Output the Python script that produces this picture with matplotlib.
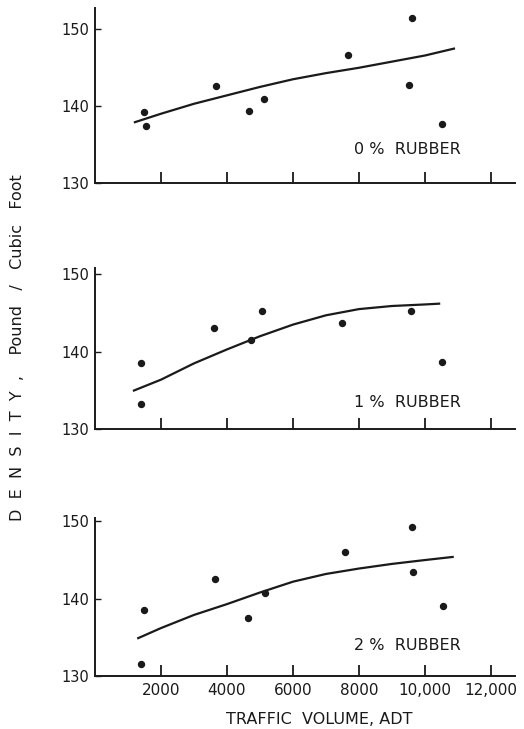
import matplotlib
matplotlib.use('Agg')
import matplotlib.pyplot as plt

# Measured densities (pound / cubic foot) vs traffic volume (ADT)
traffic_0 = [1480, 1550, 3670, 4680, 5130, 7680, 9600, 9520, 10520]
density_0 = [139.2, 137.4, 142.6, 139.3, 140.9, 146.7, 151.5, 142.7, 137.6]

traffic_1 = [1380, 1380, 3610, 4730, 5070, 7490, 9590, 9580, 10530]
density_1 = [138.5, 133.2, 143.0, 141.5, 145.2, 143.7, 151.4, 145.2, 138.7]

traffic_2 = [1480, 1390, 3650, 4650, 5150, 7570, 9620, 9630, 10540]
density_2 = [138.5, 131.5, 142.6, 137.5, 140.8, 146.1, 149.3, 143.4, 139.0]

# Trend curves
curve_x0 = [1210, 2000, 3000, 4000, 5000, 6000, 7000, 8000, 9000, 10000, 10880]
curve_y0 = [137.9, 139.0, 140.3, 141.4, 142.5, 143.5, 144.3, 145.0, 145.8, 146.6, 147.5]

curve_x1 = [1180, 2000, 3000, 4000, 5000, 6000, 7000, 8000, 9000, 10000, 10430]
curve_y1 = [135.0, 136.4, 138.5, 140.3, 142.0, 143.5, 144.7, 145.5, 145.9, 146.1, 146.2]

curve_x2 = [1310, 2000, 3000, 4000, 5000, 6000, 7000, 8000, 9000, 10000, 10840]
curve_y2 = [134.9, 136.2, 137.9, 139.3, 140.8, 142.2, 143.2, 143.9, 144.5, 145.0, 145.4]

labels = ['0 %  RUBBER', '1 %  RUBBER', '2 %  RUBBER']
x_ticks = [2000, 4000, 6000, 8000, 10000, 12000]
x_tick_labels = ['2000', '4000', '6000', '8000', '10,000', '12,000']
y_ticks = [130, 140, 150]

ink = '#1a1a1a'
plt.rcParams['font.family'] = ['DejaVu Sans']

fig = plt.figure(figsize=(5.24, 7.29), dpi=100)

# axes placement in figure fractions: [left, bottom, width, height], ylim top
left = 95 / 524
width = (515 - 95) / 524
panels = [
    ([left, 1 - 182.7 / 729, width, (182.7 - 8) / 729], 152.8,
     traffic_0, density_0, curve_x0, curve_y0, labels[0], 134.3),
    ([left, 1 - 429.3 / 729, width, (429.3 - 268) / 729], 150.8,
     traffic_1, density_1, curve_x1, curve_y1, labels[1], 133.5),
    ([left, 1 - 676 / 729, width, (676 - 518.3) / 729], 150.4,
     traffic_2, density_2, curve_x2, curve_y2, labels[2], 133.9),
]

for i, (rect, ytop, tx, dy, cx, cy, lab, laby) in enumerate(panels):
    ax = fig.add_axes(rect)
    ax.plot(tx, dy, 'o', color=ink, markersize=4.3)
    ax.plot(cx, cy, '-', color=ink, linewidth=1.6)
    ax.set_xlim(0, 12730)
    ax.set_ylim(130, ytop)
    for s in ['top', 'right']:
        ax.spines[s].set_visible(False)
    for s in ['left', 'bottom']:
        ax.spines[s].set_linewidth(1.4)
        ax.spines[s].set_color(ink)
    ax.set_yticks(y_ticks)
    ax.set_yticklabels([str(t) for t in y_ticks], fontsize=10.5, color=ink)
    ax.set_xticks(x_ticks)
    if i == 2:
        ax.set_xticklabels(x_tick_labels, fontsize=11, color=ink)
    else:
        ax.set_xticklabels([])
    ax.tick_params(axis='x', direction='in', length=8, width=1.3, color=ink, pad=5)
    ax.tick_params(axis='y', direction='in', length=4, width=1.0, color=ink, pad=4)
    ax.text(7850, laby, lab, fontsize=11.5, color=ink, ha='left', va='center')

fig.text(18 / 524, 1 - 348 / 729,
         'D  E  N  S  I  T  Y  ,    Pound   /   Cubic   Foot',
         rotation=90, ha='center', va='center', fontsize=11.5, color=ink)
fig.text(319 / 524, 1 - 719 / 729, 'TRAFFIC  VOLUME, ADT',
         ha='center', va='center', fontsize=11.5, color=ink)

fig.savefig('out.png', dpi=100, facecolor='white')
